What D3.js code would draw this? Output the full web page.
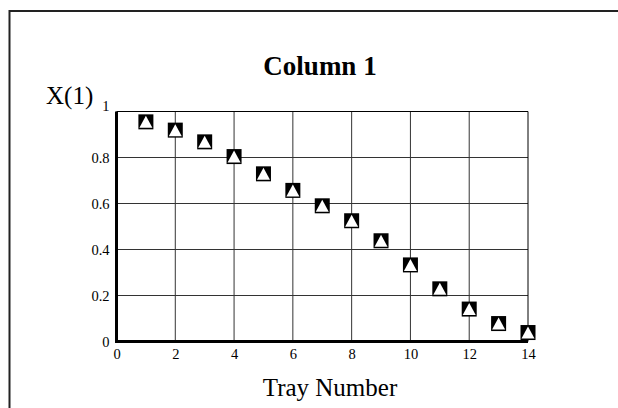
<!DOCTYPE html>
<html>
<head>
<meta charset="utf-8">
<script src="https://cdn.jsdelivr.net/npm/d3@7"></script>
<style>
  html, body { margin: 0; padding: 0; background: #fff; }
  svg { display: block; }
  text { font-family: "Liberation Serif", "Times New Roman", serif; fill: #000; }
</style>
</head>
<body>
<svg id="chart" width="618" height="408"></svg>
<script>
const title = "Column 1";
const yLabel = "X(1)";
const xLabel = "Tray Number";
const trays = [1, 2, 3, 4, 5, 6, 7, 8, 9, 10, 11, 12, 13, 14];
const x1Values = [0.955, 0.919, 0.868, 0.804, 0.729, 0.657, 0.590, 0.525, 0.438, 0.333, 0.229, 0.141, 0.078, 0.039];
const xTicks = [0, 2, 4, 6, 8, 10, 12, 14];
const yTicks = [0, 0.2, 0.4, 0.6, 0.8, 1];

(function () {
const svg = d3.select("#chart");
const W = 618, H = 408;
const pLeft = 116.5, pRight = 528, pTop = 111.5, pBottom = 341.5;

// outer frame
svg.append("rect")
  .attr("x", 9.5).attr("y", 11).attr("width", W + 20).attr("height", H + 20)
  .attr("fill", "none").attr("stroke", "#222").attr("stroke-width", 2);

const x = d3.scaleLinear().domain([0, 14]).range([pLeft, pRight]);
const y = d3.scaleLinear().domain([0, 1]).range([pBottom, pTop]);

// gridlines
const g = svg.append("g");
g.selectAll("line.vx").data(xTicks.filter(d => d > 0 && d < 14)).join("line")
  .attr("class", "vx")
  .attr("x1", d => x(d)).attr("x2", d => x(d)).attr("y1", pTop).attr("y2", pBottom)
  .attr("stroke", "#333").attr("stroke-width", 1);
g.selectAll("line.hy").data(yTicks.filter(d => d > 0 && d < 1)).join("line")
  .attr("class", "hy")
  .attr("x1", pLeft).attr("x2", pRight).attr("y1", d => y(d)).attr("y2", d => y(d))
  .attr("stroke", "#333").attr("stroke-width", 1);

// top and right border
svg.append("line").attr("x1", pLeft).attr("x2", pRight).attr("y1", pTop).attr("y2", pTop)
  .attr("stroke", "#000").attr("stroke-width", 1);
svg.append("line").attr("x1", pRight).attr("x2", pRight).attr("y1", pTop).attr("y2", pBottom)
  .attr("stroke", "#000").attr("stroke-width", 1);

// axes
const xAxis = d3.axisBottom(x).tickValues(xTicks).tickSize(0).tickPadding(7).tickFormat(d3.format("d"));
const yAxis = d3.axisLeft(y).tickValues(yTicks).tickSize(0).tickPadding(7).tickFormat(d => d === 0 || d === 1 ? String(d) : d3.format(".1f")(d));

const gx = svg.append("g").attr("transform", `translate(0,${pBottom})`).call(xAxis);
gx.select(".domain").remove();
gx.selectAll("text").style("font-family", '"Liberation Serif", serif').style("font-size", "14.5px").attr("fill", "#000");

const gy = svg.append("g").attr("transform", `translate(${pLeft},0)`).call(yAxis);
gy.select(".domain").remove();
gy.selectAll("text").style("font-family", '"Liberation Serif", serif').style("font-size", "14.5px").attr("fill", "#000");
gy.selectAll(".tick").filter(d => d === 1).select("text").attr("dy", "-0.1em");

// thick axis lines
svg.append("line").attr("x1", pLeft).attr("x2", pLeft).attr("y1", pTop).attr("y2", pBottom + 1.5)
  .attr("stroke", "#000").attr("stroke-width", 3);
svg.append("line").attr("x1", pLeft - 1.5).attr("x2", pRight).attr("y1", pBottom).attr("y2", pBottom)
  .attr("stroke", "#000").attr("stroke-width", 3);

// markers
const data = trays.map((t, i) => ({ t, v: x1Values[i] }));
const m = svg.append("g").selectAll("g").data(data).join("g")
  .attr("transform", d => `translate(${x(d.t)},${y(d.v)})`);
m.append("rect").attr("x", -7.5).attr("y", -7.5).attr("width", 15).attr("height", 15).attr("fill", "#000");
m.append("path").attr("d", "M0,-6 L6.5,6 L-6.5,6 Z").attr("fill", "#fff");

// texts
svg.append("text").attr("x", 320).attr("y", 75).attr("text-anchor", "middle")
  .style("font-size", "27px").style("font-weight", "bold").text(title);
svg.append("text").attr("x", 46).attr("y", 104)
  .style("font-size", "25px").text(yLabel);
svg.append("text").attr("x", 330).attr("y", 396).attr("text-anchor", "middle")
  .style("font-size", "25px").text(xLabel);
})();
</script>
</body>
</html>
